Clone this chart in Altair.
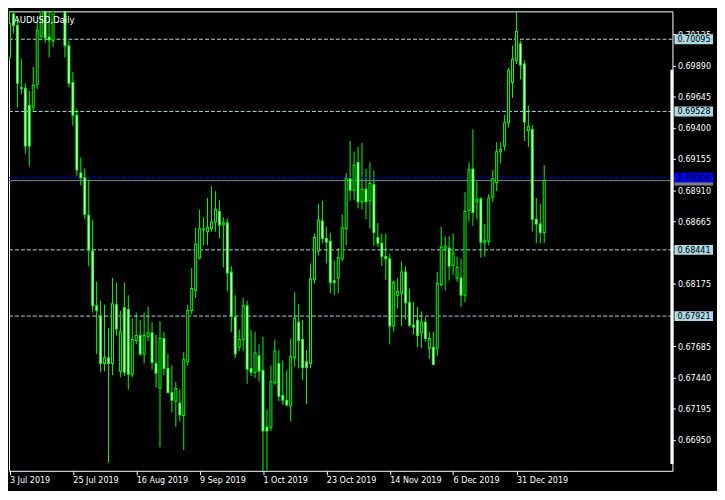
import altair as alt
import pandas as pd
import numpy as np

symbol_title = "AUDUSD,Daily"
date_ticks = [0, 16, 32, 48, 64, 80, 96, 112, 128]
date_labels = ["3 Jul 2019", "25 Jul 2019", "16 Aug 2019", "9 Sep 2019", "1 Oct 2019",
               "23 Oct 2019", "14 Nov 2019", "6 Dec 2019", "31 Dec 2019"]
price_ticks = [0.70135, 0.69890, 0.69645, 0.69400, 0.69155, 0.68910, 0.68665,
               0.68175, 0.67685, 0.67440, 0.67195, 0.66950]
level_prices = [0.70095, 0.69528, 0.68441, 0.67921]
bid_price = 0.69008
grey_price = 0.68985

opens = [
    0.69953, 0.70293, 0.70202, 0.69715, 0.69711, 0.69575, 0.69560, 0.69741, 0.70119, 0.70380,
    0.70112, 0.70081, 0.70390, 0.70440, 0.70400, 0.70044, 0.69756, 0.69499, 0.69045, 0.69008,
    0.68713, 0.68433, 0.68002, 0.67919, 0.67548, 0.67593, 0.67548, 0.68010, 0.67488, 0.67987,
    0.67972, 0.67465, 0.67730, 0.67768, 0.67624, 0.67760, 0.67790, 0.67548, 0.67359, 0.67745,
    0.67510, 0.67321, 0.67253, 0.67238, 0.67140, 0.67563, 0.67964, 0.68123, 0.68380, 0.68599,
    0.68584, 0.68607, 0.68660, 0.68743, 0.68637, 0.68652, 0.68267, 0.67911, 0.67677, 0.67737,
    0.68002, 0.67510, 0.67480, 0.67609, 0.67495, 0.67049, 0.67049, 0.67397, 0.67548, 0.67299,
    0.67261, 0.67215, 0.67593, 0.67873, 0.67737, 0.67563, 0.67548, 0.68206, 0.68433, 0.68667,
    0.68531, 0.68509, 0.68199, 0.68221, 0.68372, 0.68607, 0.69000, 0.68909, 0.69129, 0.68819,
    0.68917, 0.68826, 0.68955, 0.68539, 0.68493, 0.68388, 0.68372, 0.67843, 0.68085, 0.68100,
    0.68267, 0.68025, 0.67851, 0.67889, 0.67790, 0.67873, 0.67669, 0.67677, 0.67669, 0.68169,
    0.68456, 0.68456, 0.68319, 0.68221, 0.68221, 0.68085, 0.68751, 0.69076, 0.68819, 0.68841,
    0.68501, 0.68509, 0.68856, 0.68970, 0.69212, 0.69257, 0.69439, 0.69756, 0.69930, 0.70059,
    0.69900, 0.69378, 0.69386, 0.68682, 0.68645, 0.68577,
]
highs = [
    0.70350, 0.70340, 0.70255, 0.69938, 0.69749, 0.69688, 0.69877, 0.70240, 0.70420, 0.70420,
    0.70360, 0.70420, 0.70470, 0.70480, 0.70430, 0.70081, 0.69839, 0.69552, 0.69166, 0.69083,
    0.68993, 0.68675, 0.68191, 0.68040, 0.68010, 0.67828, 0.68221, 0.68184, 0.67964, 0.68184,
    0.68085, 0.67904, 0.67949, 0.67889, 0.67949, 0.67994, 0.67873, 0.67775, 0.67881, 0.67798,
    0.67624, 0.67533, 0.67405, 0.67344, 0.67639, 0.68010, 0.68297, 0.68615, 0.68758, 0.68698,
    0.68849, 0.68940, 0.68902, 0.68834, 0.68698, 0.68690, 0.68312, 0.68085, 0.67813, 0.68062,
    0.68040, 0.67813, 0.67798, 0.67699, 0.67760, 0.67185, 0.67533, 0.67737, 0.67654, 0.67571,
    0.67495, 0.67745, 0.68108, 0.68017, 0.67889, 0.67654, 0.68334, 0.68569, 0.68803, 0.68826,
    0.68622, 0.68577, 0.68357, 0.68456, 0.68720, 0.69045, 0.69295, 0.69212, 0.69250, 0.69280,
    0.69076, 0.69129, 0.69061, 0.68652, 0.68569, 0.68569, 0.68410, 0.68199, 0.68221, 0.68350,
    0.68312, 0.68138, 0.68032, 0.67994, 0.67957, 0.67911, 0.67798, 0.67798, 0.68267, 0.68622,
    0.68547, 0.68547, 0.68569, 0.68388, 0.68372, 0.68894, 0.69129, 0.69386, 0.68978, 0.68856,
    0.68645, 0.68879, 0.69068, 0.69287, 0.69287, 0.69499, 0.69870, 0.70044, 0.70308, 0.70081,
    0.69930, 0.69575, 0.69424, 0.68849, 0.68803, 0.69106,
]
lows = [
    0.69923, 0.70142, 0.69560, 0.69666, 0.69197, 0.69098, 0.69522, 0.69703, 0.70100, 0.70066,
    0.69953, 0.70036, 0.70330, 0.70308, 0.69953, 0.69718, 0.69416, 0.69023, 0.68947, 0.68682,
    0.68312, 0.67949, 0.67624, 0.67480, 0.67488, 0.66769, 0.67457, 0.67768, 0.67442, 0.67450,
    0.67344, 0.67442, 0.67699, 0.67609, 0.67548, 0.67722, 0.67503, 0.67359, 0.66890, 0.67457,
    0.67314, 0.67163, 0.67049, 0.67094, 0.66868, 0.67533, 0.67934, 0.68062, 0.68365, 0.68478,
    0.68478, 0.68584, 0.68584, 0.68531, 0.68304, 0.68115, 0.67798, 0.67593, 0.67647, 0.67647,
    0.67389, 0.67450, 0.67435, 0.67405, 0.66690, 0.66710, 0.67019, 0.67382, 0.67253, 0.67223,
    0.67215, 0.67094, 0.67525, 0.67510, 0.67420, 0.67231, 0.67510, 0.68176, 0.68395, 0.68493,
    0.68334, 0.68100, 0.68085, 0.68100, 0.68350, 0.68478, 0.68826, 0.68834, 0.68766, 0.68758,
    0.68682, 0.68607, 0.68471, 0.68463, 0.68312, 0.68206, 0.67699, 0.67798, 0.67979, 0.67843,
    0.67896, 0.67836, 0.67775, 0.67677, 0.67669, 0.67722, 0.67586, 0.67533, 0.67609, 0.68153,
    0.68123, 0.68199, 0.68244, 0.68191, 0.67994, 0.68032, 0.68667, 0.68630, 0.68682, 0.68380,
    0.68388, 0.68478, 0.68819, 0.68902, 0.69121, 0.69219, 0.69401, 0.69635, 0.69900, 0.69779,
    0.69295, 0.69250, 0.68584, 0.68493, 0.68493, 0.68493,
]
closes = [
    0.70218, 0.70202, 0.69749, 0.69711, 0.69257, 0.69257, 0.69734, 0.70165, 0.70360, 0.70104,
    0.70089, 0.70380, 0.70440, 0.70400, 0.70044, 0.69749, 0.69499, 0.69068, 0.69008, 0.68720,
    0.68441, 0.68002, 0.67964, 0.67548, 0.67593, 0.67548, 0.68017, 0.67820, 0.67798, 0.67480,
    0.67465, 0.67737, 0.67768, 0.67624, 0.67768, 0.67790, 0.67556, 0.67473, 0.67745, 0.67510,
    0.67321, 0.67261, 0.67352, 0.67147, 0.67578, 0.67964, 0.68138, 0.68486, 0.68607, 0.68605,
    0.68615, 0.68660, 0.68758, 0.68637, 0.68652, 0.68259, 0.67919, 0.67624, 0.67737, 0.68002,
    0.67503, 0.67480, 0.67631, 0.67488, 0.67019, 0.67019, 0.67405, 0.67647, 0.67291, 0.67261,
    0.67223, 0.67601, 0.67904, 0.67730, 0.67518, 0.67518, 0.68214, 0.68539, 0.68675, 0.68531,
    0.68501, 0.68184, 0.68184, 0.68380, 0.68615, 0.69000, 0.68909, 0.69106, 0.68819, 0.68917,
    0.68819, 0.68962, 0.68577, 0.68493, 0.68388, 0.68372, 0.67843, 0.68184, 0.68115, 0.68267,
    0.68025, 0.67851, 0.67836, 0.67768, 0.67873, 0.67745, 0.67745, 0.67541, 0.68176, 0.68463,
    0.68471, 0.68312, 0.68410, 0.68304, 0.68085, 0.68743, 0.69068, 0.68735, 0.68841, 0.68501,
    0.68516, 0.68849, 0.69000, 0.69212, 0.69227, 0.69439, 0.69847, 0.69938, 0.70157, 0.69892,
    0.69446, 0.69409, 0.68682, 0.68645, 0.68577, 0.68985,
]

W, H = 670, 464
FONT = "DejaVu Sans Condensed, Liberation Sans, sans-serif"
FS = 9
LIME = "#00ff00"
LIGHTBLUE = "#add8e6"

df = pd.DataFrame({"i": np.arange(len(opens)), "open": opens, "high": highs,
                   "low": lows, "close": closes})
df["top"] = df[["open", "close"]].max(axis=1)
df["bot"] = df[["open", "close"]].min(axis=1)
df["fill"] = np.where(df["close"] >= df["open"], "#000000", "#ffffff")

xscale = alt.Scale(domain=[-0.125, 167.375], nice=False, zero=False, padding=0)
yscale = alt.Scale(domain=[0.66706, 0.70314], nice=False, zero=False, padding=0)

label_expr = "[" + ",".join("'%s'" % d for d in date_labels) + "][round(datum.value/16)]"

x_axis = alt.Axis(values=date_ticks, labelExpr=label_expr, orient="bottom", grid=False,
                  domain=False, labelColor="white", tickColor="white", tickSize=4,
                  labelAlign="left", labelBaseline="top", labelFont=FONT, labelFontSize=FS,
                  labelPadding=1, labelFlush=False, labelOverlap=False, title=None)
y_axis = alt.Axis(values=price_ticks, format=".5f", orient="right", grid=False,
                  domain=False, labelColor="white", tickColor="white", tickSize=3,
                  labelFont=FONT, labelFontSize=FS, labelPadding=2, labelBaseline="middle",
                  labelAlign="left", labelFlush=False, labelOverlap=False, title=None)

X = alt.X("i:Q", scale=xscale, axis=x_axis)

def Y(field):
    return alt.Y(field, type="quantitative", scale=yscale, axis=y_axis)

base = alt.Chart(df)

wicks = base.mark_rule(color=LIME, strokeWidth=1, clip=True).encode(
    x=X, y=Y("high"), y2="low:Q")
bodies = base.mark_bar(size=3, color=LIME, clip=True, yOffset=-0.5, y2Offset=0.5).encode(
    x=X, y=Y("top"), y2="bot:Q")
inner = base.mark_bar(size=1, clip=True, yOffset=0.5, y2Offset=-0.5).encode(
    x=X, y=Y("top"), y2="bot:Q", color=alt.Color("fill:N", scale=None))

lv = pd.DataFrame({"price": level_prices})
level_lines = alt.Chart(lv).mark_rule(color=LIGHTBLUE, strokeWidth=1, strokeDash=[4, 2]).encode(
    y=Y("price"), x=alt.value(0), x2=alt.value(W))

bid_df = pd.DataFrame({"price": [bid_price]})
grey_df = pd.DataFrame({"price": [grey_price]})
grey_line = alt.Chart(grey_df).mark_rule(color="#778899", strokeWidth=1).encode(
    y=Y("price"), x=alt.value(0), x2=alt.value(W))
bid_line = alt.Chart(bid_df).mark_rule(color="#0000ff", strokeWidth=1, strokeDash=[4, 2]).encode(
    y=Y("price"), x=alt.value(0), x2=alt.value(W))


def box(data, fill):
    return alt.Chart(data).mark_rect(color=fill, yOffset=-5, y2Offset=5).encode(
        y=Y("price"), y2="price:Q", x=alt.value(W + 2), x2=alt.value(W + 41))


def box_text(data, color):
    return alt.Chart(data).mark_text(align="left", baseline="middle", font=FONT,
                                     fontSize=FS, color=color).encode(
        y=Y("price"), x=alt.value(W + 5), text=alt.Text("price:Q", format=".5f"))


title_df = pd.DataFrame({"t": [symbol_title]})
title = alt.Chart(title_df).mark_text(align="left", baseline="alphabetic", font=FONT,
                                      fontSize=9.5, color="white").encode(
    x=alt.value(5), y=alt.value(12), text="t:N")

bar_df = pd.DataFrame({"a": [0]})
right_bar = alt.Chart(bar_df).mark_rule(color="white", strokeWidth=3).encode(
    x=alt.value(W - 0.5), y=alt.value(59), y2=alt.value(457))

chart = alt.layer(
    wicks, level_lines, grey_line, bid_line, bodies, inner, title, right_bar,
    box(lv, LIGHTBLUE), box_text(lv, "black"),
    box(grey_df, "#808080"),
    box(bid_df, "#0000ff"), box_text(bid_df, "black"),
).properties(
    width=W, height=H,
    autosize=alt.AutoSizeParams(type="none"),
    padding={"left": 1, "top": 1, "right": 45, "bottom": 18},
    background="black",
).configure_view(stroke="white", strokeWidth=1)

chart.save("out.html", embed_options={"renderer": "svg", "actions": False})
